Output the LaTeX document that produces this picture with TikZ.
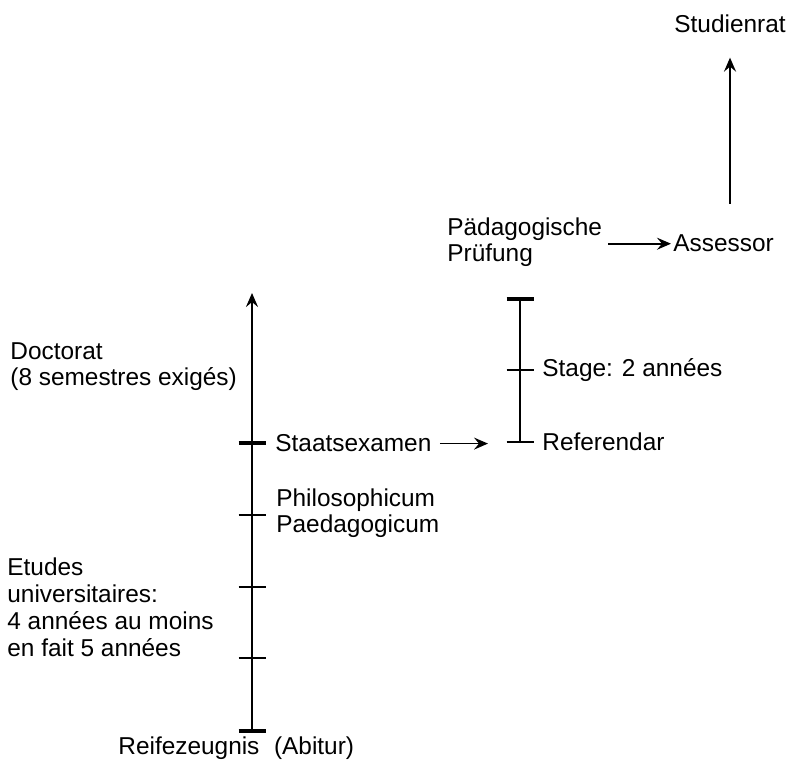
\documentclass[tikz,border=0pt]{standalone}
\usepackage{fontspec}
\setmainfont{Liberation Sans}
\usetikzlibrary{arrows.meta}

\begin{document}
\begin{tikzpicture}[x=0.5pt, y=-0.5pt]
	\tikzstyle{txt}       = [inner sep=0pt, anchor=base west, align=left, font=\fontsize{12.2}{13}\selectfont]
	\tikzstyle{bar}       = [line width=1.1pt]
	\tikzstyle{arr}       = [line width=0.8pt, -{Stealth[length=7pt, width=6pt, inset=2.5pt]}]
	\tikzstyle{thickmark} = [line width=2.2pt]
	\tikzstyle{midmark}   = [line width=1.2pt]
	\tikzstyle{thinmark}  = [line width=0.7pt]

	\useasboundingbox (0,0) rectangle (798,779);

	% left time line
	\foreach \name/\y in {m0/731, m1/658, m2/587, m3/515, m4/443, mt/293}
		\coordinate (\name) at (252, \y);
	% right time line
	\foreach \name/\y in {r0/442, r1/370, r2/299}
		\coordinate (\name) at (520, \y);

	% multi-line nodes sit on their last baseline
	\node[txt] (studienrat) at (674, 33)  {Studienrat};
	\node[txt] (paed)       at (447, 262) {Pädagogische\\Prüfung};
	\node[txt] (assessor)   at (673, 252) {Assessor};
	\node[txt] (stage)      at (542, 377) {Stage: 2 années};
	\node[txt] (referendar) at (542, 451) {Referendar};
	\node[txt] (staats)     at (275, 452) {Staatsexamen};
	\node[txt] (philo)      at (276, 533) {Philosophicum\\Paedagogicum};
	\node[txt] (doctorat)   at (10, 386)  {Doctorat\\(8 semestres exigés)};
	\node[txt, font=\fontsize{12.2}{13.6}\selectfont] (etudes) at (7, 657) {Etudes\\universitaires:\\4 années au moins\\en fait 5 années};
	\node[txt] (reife)      at (118, 755) {Reifezeugnis\hspace{0.6em}(Abitur)};

	\draw[bar, arr, line width=1.1pt] (m0) -- (mt);
	\draw[bar] (r0) -- (r2);

	\foreach \c in {m0, m4, r2}
		\draw[thickmark] ([xshift=-6.75pt]\c) -- ([xshift=6.75pt]\c);
	\draw[midmark] ([xshift=-6.75pt]m3) -- ([xshift=6.75pt]m3);
	\foreach \c in {m1, m2, r0, r1}
		\draw[thinmark] ([xshift=-6.75pt]\c) -- ([xshift=6.75pt]\c);

	\draw[arr, shorten <=4pt, shorten >=16pt] (staats.east) -- (staats.east -| r0);
	\draw[arr, shorten <=3pt, shorten >=1pt] (paed.east |- assessor.west) -- (assessor.west);
	\draw[arr, line width=1.1pt, shorten <=15.5pt, shorten >=12pt] (assessor.north -| studienrat.south) -- (studienrat.south);
\end{tikzpicture}
\end{document}
